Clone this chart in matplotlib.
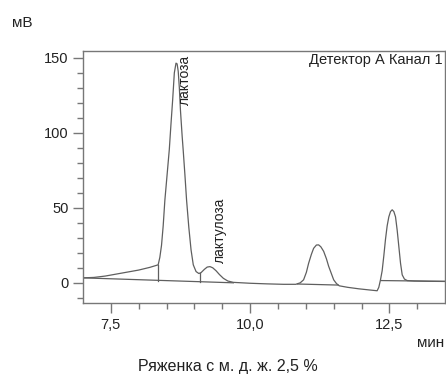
import numpy as np
import matplotlib.pyplot as plt

plt.rcParams['font.family'] = ['Liberation Sans', 'DejaVu Sans']

# chromatogram trace (time in min, signal in mV)
time = [7.0, 7.2, 7.4, 7.7, 8.0, 8.2, 8.35, 8.38, 8.41, 8.44, 8.47, 8.51, 8.55,
        8.58, 8.61, 8.64, 8.67, 8.69, 8.71, 8.73, 8.75, 8.78, 8.80, 8.83, 8.86,
        8.90, 8.94, 8.98, 9.03, 9.08, 9.12, 9.18, 9.23, 9.28, 9.33, 9.39, 9.45,
        9.52, 9.60, 9.70, 9.85, 10.0, 10.3, 10.6, 10.82, 10.9, 10.96, 11.01,
        11.05, 11.10, 11.14, 11.19, 11.23, 11.27, 11.32, 11.37, 11.41, 11.46,
        11.50, 11.55, 11.60, 11.75, 11.95, 12.15, 12.28, 12.31, 12.34, 12.37,
        12.40, 12.43, 12.46, 12.49, 12.52, 12.55, 12.58, 12.61, 12.64, 12.67,
        12.70, 12.73, 12.77, 12.82, 12.95, 13.2, 13.5]
signal = [3.3, 3.6, 4.5, 6.5, 8.5, 10.3, 12.0, 17, 25, 38, 55, 72, 89,
          106, 122, 140, 146.5, 146, 141, 130, 115, 98, 88, 72, 55,
          37, 22, 12, 7.5, 6.2, 6.8, 9.0, 10.5, 10.8, 10.0, 8.0, 5.5,
          3.0, 1.2, 0.3, 0.0, -0.3, -0.7, -1.0, -1.0, 0.0, 2.0, 7.0,
          13, 19, 23, 25.2, 25.3, 24, 21, 16, 11, 6,
          2, -0.5, -2, -3, -4, -4.8, -5.3, -3, 2, 8,
          18, 29, 38, 44, 47.5, 48.7, 47.5, 44, 35, 24,
          13, 5.3, 2.5, 1.5, 1.2, 1.0, 0.9]

# integration baselines: (t0, y0, t1, y1)
baselines = [(7.0, 3.3, 9.7, 0.0),
             (10.85, -0.8, 11.58, -1.5),
             (12.35, 1.5, 13.5, 1.0)]
# peak separation drops: (t, y_low, y_high)
drops = [(8.35, 1.5, 12.0), (9.10, 0.7, 6.5)]

line_c = '#5f5f5f'
fig = plt.figure(figsize=(4.46, 3.76), dpi=100)
ax = fig.add_axes([0.186, 0.194, 0.812, 0.670])

ax.plot(time, signal, color=line_c, lw=0.9)
for t0, y0, t1, y1 in baselines:
    ax.plot([t0, t1], [y0, y1], color=line_c, lw=0.9)
for t, lo, hi in drops:
    ax.plot([t, t], [lo, hi], color=line_c, lw=0.9)

ax.set_xlim(7.0, 13.5)
ax.set_ylim(-13.5, 154.5)
ax.set_xticks([7.5, 10.0, 12.5])
ax.set_xticklabels(['7,5', '10,0', '12,5'])
ax.set_xticks(np.arange(7.5, 13.5, 0.5), minor=True)
ax.set_yticks([0, 50, 100, 150])
ax.set_yticks(np.arange(-10, 151, 10), minor=True)
ax.tick_params(which='major', direction='out', length=7, width=1, color='#777777',
               labelsize=10.5, labelcolor='#222222')
ax.tick_params(which='minor', direction='out', length=4, width=1, color='#777777')
for s in ax.spines.values():
    s.set_color('#777777')
    s.set_linewidth(1.0)

ax.text(8.83, 152, 'лактоза', rotation=90, ha='center', va='top', fontsize=10, color='#222222')
ax.text(9.46, 57, 'лактулоза', rotation=90, ha='center', va='top', fontsize=10, color='#222222')
ax.text(13.46, 148.5, 'Детектор А Канал 1', ha='right', va='center', fontsize=10.5, color='#222222')

fig.text(0.027, 0.938, 'мВ', fontsize=11, color='#222222', va='center')
fig.text(0.997, 0.088, 'мин', fontsize=11, color='#222222', va='center', ha='right')
fig.text(0.51, 0.026, 'Ряженка с м. д. ж. 2,5 %', fontsize=11.5, color='#222222',
         va='center', ha='center')

fig.savefig('out.png', dpi=100)
